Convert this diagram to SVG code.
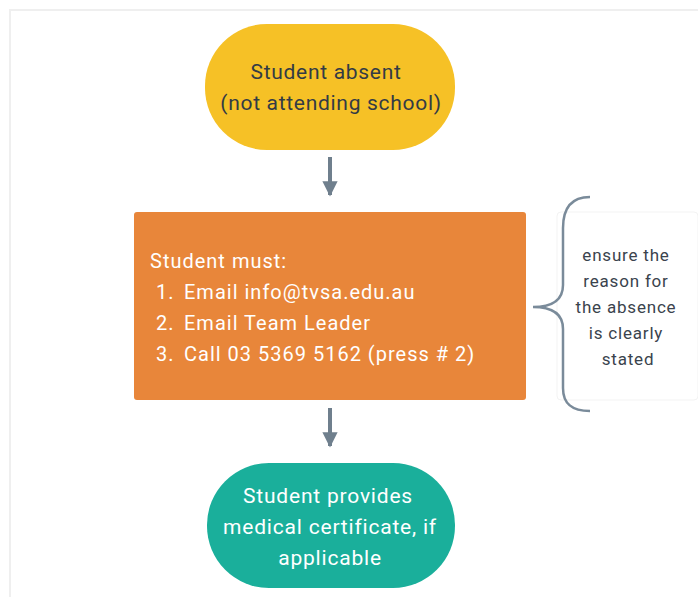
<svg xmlns="http://www.w3.org/2000/svg" width="698" height="597" viewBox="0 0 698 597">
<style>
text{font-family:"Roboto","Liberation Sans",sans-serif;}
.dark{fill:#333b45;font-size:21px;letter-spacing:0.7px;text-anchor:middle;}
.wt{fill:#ffffff;font-size:20px;letter-spacing:1px;}
.wc{fill:#ffffff;font-size:21px;letter-spacing:0.8px;text-anchor:middle;}
.note{fill:#3a434d;font-size:17px;letter-spacing:0.8px;text-anchor:middle;}
.conn{stroke:#6f7f8d;stroke-width:4;fill:none;}
</style>
<defs>
<marker id="ah" viewBox="0 0 10 10" refX="9" refY="5" markerWidth="3.8" markerHeight="3.8" orient="auto" markerUnits="strokeWidth">
<path d="M0,0 L10,5 L0,10 z" fill="#6f7f8d"/>
</marker>
</defs>
<rect x="0" y="0" width="698" height="597" fill="#ffffff"/>
<path d="M10,597 L10,10 L698,10" fill="none" stroke="#efefef" stroke-width="2"/>
<g id="start">
<rect x="205" y="24" width="250" height="126" rx="62" ry="62" fill="#f6c126"/>
<text class="dark" x="326" y="79">Student absent</text>
<text class="dark" x="331" y="110">(not attending school)</text>
</g>
<g id="actions">
<rect x="134" y="212" width="392" height="188" rx="3" fill="#e8863a"/>
<text class="wt" x="150" y="268">Student must:</text>
<text class="wt" x="156" y="299">1.</text><text class="wt" x="184" y="299">Email info@tvsa.edu.au</text>
<text class="wt" x="156" y="330">2.</text><text class="wt" x="184" y="330">Email Team Leader</text>
<text class="wt" x="156" y="361">3.</text><text class="wt" x="184" y="361">Call 03 5369 5162 (press # 2)</text>
</g>
<g id="end">
<rect x="207" y="463" width="248" height="125" rx="62" ry="62" fill="#1aaf9b"/>
<text class="wc" x="328" y="503">Student provides</text>
<text class="wc" x="330" y="534">medical certificate, if</text>
<text class="wc" x="330" y="565">applicable</text>
</g>
<g id="note">
<rect x="557" y="212" width="141" height="188" rx="4" fill="#ffffff" stroke="#f3f3f3" stroke-width="1"/>
<text class="note" x="626" y="261">ensure the</text>
<text class="note" x="626" y="287">reason for</text>
<text class="note" x="626" y="313">the absence</text>
<text class="note" x="626" y="339">is clearly</text>
<text class="note" x="628" y="365">stated</text>
</g>
<g id="connectors">
<path class="conn" d="M330,157 L330,195" marker-end="url(#ah)"/>
<path class="conn" d="M330,408 L330,446" marker-end="url(#ah)"/>
<path d="M590,197 C572,197 563,207 563,228 L563,285 C563,300 552,307 533,307 C552,307 563,314 563,329 L563,388 C563,404 572,411 590,411" fill="none" stroke="#7a8b9a" stroke-width="2.5"/>
</g>
</svg>
